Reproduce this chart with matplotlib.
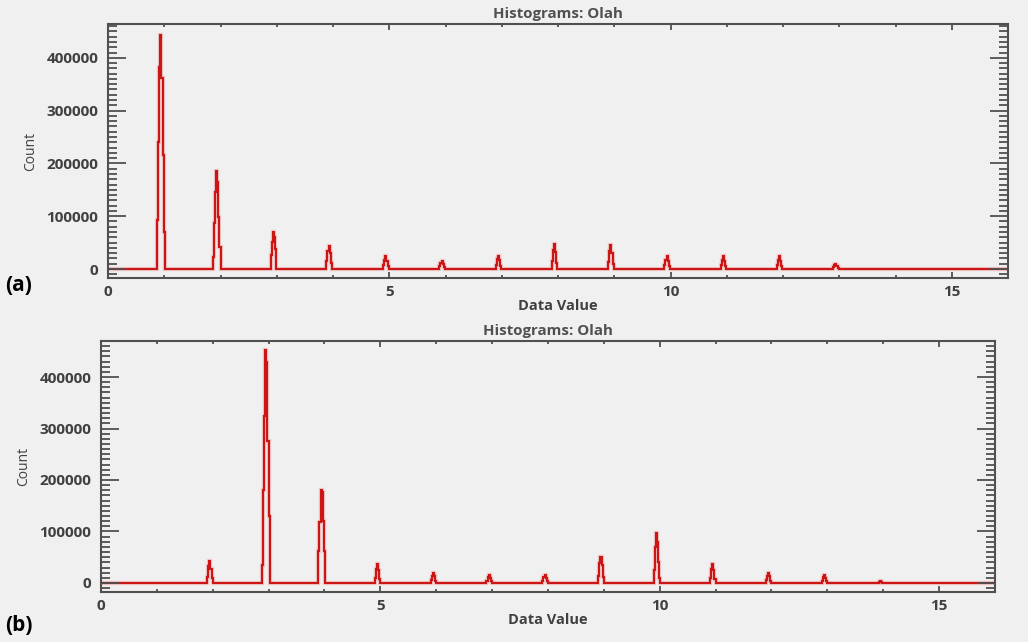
"""Two stacked IDL-style histograms (Olah), panels (a) and (b)."""

import matplotlib
matplotlib.use("Agg")
import matplotlib.pyplot as plt
import numpy as np
from matplotlib.ticker import MultipleLocator

BIN_WIDTH = 0.02
X_RANGE = (0.0, 16.0)

# panel (a): peak positions and bin counts per peak
peak_pos_a = [0.94, 1.93, 2.94, 3.93, 4.94, 5.94, 6.94, 7.94, 8.94, 9.94, 10.94, 11.94, 12.94]
peak_bins_a = [
    [93000, 240000, 383000, 444000, 362000, 216000, 71000],
    [23000, 87000, 146000, 186000, 165000, 99000, 42000],
    [26000, 52000, 71000, 60000, 38000],
    [16000, 34000, 43000, 31000, 12000],
    [8000, 18000, 24000, 16000, 6000],
    [5000, 12000, 16000, 10000, 4000],
    [8000, 19000, 25000, 17000, 6000],
    [15000, 36000, 47000, 32000, 11000],
    [14000, 34000, 45000, 31000, 10000],
    [8000, 18000, 24000, 16000, 6000],
    [8000, 18000, 24000, 15000, 6000],
    [7000, 17000, 24000, 16000, 6000],
    [3000, 7000, 9500, 6000, 2000],
]

# panel (b)
peak_pos_b = [1.95, 2.95, 3.95, 4.95, 5.95, 6.95, 7.95, 8.95, 9.95, 10.95, 11.95, 12.95, 13.95]
peak_bins_b = [
    [12000, 32000, 42000, 28000, 10000],
    [35000, 180000, 325000, 452000, 430000, 275000, 130000],
    [62000, 119000, 181000, 176000, 121000, 62000],
    [10000, 28000, 37700, 25000, 8000],
    [5000, 14000, 19500, 13000, 4000],
    [4000, 11000, 15000, 10000, 3000],
    [4000, 11000, 15000, 10000, 3000],
    [14000, 38000, 50000, 34000, 12000],
    [25000, 70000, 97000, 80000, 40000, 10000],
    [10000, 28000, 37700, 25000, 8000],
    [5000, 14000, 20000, 13000, 4000],
    [4000, 11000, 16000, 10000, 3000],
    [1000, 3000, 1000],
]

x_major_ticks = [0, 5, 10, 15]
y_major_ticks = [0, 100000, 200000, 300000, 400000]

BG = "#f0f0f0"
AXIS_GRAY = "#505050"
TEXT_GRAY = "#404040"
LINE_RED = "#cc1616"


def build_stairs(positions, bins):
    """Join the peaks into one histogram outline with empty bins between them."""
    edges = [X_RANGE[0]]
    values = []
    for center, counts in zip(positions, bins):
        start = center - len(counts) * BIN_WIDTH / 2
        values.append(0)
        edges.append(start)
        for i, count in enumerate(counts):
            values.append(count)
            edges.append(start + (i + 1) * BIN_WIDTH)
    values.append(0)
    edges.append(X_RANGE[1])
    return np.asarray(values, dtype=float), np.asarray(edges, dtype=float)


def draw_panel(ax, positions, bins, ylim):
    values, edges = build_stairs(positions, bins)
    ax.stairs(values, edges, color="#f29a9a", linewidth=3.2, alpha=0.35, baseline=None)
    ax.stairs(values, edges, color=LINE_RED, linewidth=1.6, baseline=None)
    ax.set_facecolor(BG)
    ax.set_xlim(*X_RANGE)
    ax.set_ylim(*ylim)
    ax.set_xticks(x_major_ticks)
    ax.set_yticks(y_major_ticks)
    ax.xaxis.set_minor_locator(MultipleLocator(1))
    ax.yaxis.set_minor_locator(MultipleLocator(10000))
    ax.tick_params(which="both", direction="in", top=True, right=True, colors=AXIS_GRAY,
                   width=1.3, labelcolor=TEXT_GRAY, labelsize=11)
    ax.tick_params(axis="y", which="major", length=13, pad=7)
    ax.tick_params(axis="y", which="minor", length=6.5)
    ax.tick_params(axis="x", which="major", length=4, pad=5)
    ax.tick_params(axis="x", which="minor", length=2.5)
    for label in ax.get_xticklabels() + ax.get_yticklabels():
        label.set_fontweight("bold")
    for spine in ax.spines.values():
        spine.set_color(AXIS_GRAY)
        spine.set_linewidth(1.5)
    ax.set_title("Histograms: Olah", fontsize=10.8, fontweight="bold", color="#505050", pad=4)
    ax.set_xlabel("Data Value", fontsize=10.5, fontweight="bold", color=TEXT_GRAY, labelpad=0)
    ax.set_ylabel("Count", fontsize=10, color=TEXT_GRAY, labelpad=6)


plt.rcParams["font.family"] = ["Open Sans", "DejaVu Sans"]

fig = plt.figure(figsize=(10.28, 6.42), dpi=100, facecolor=BG)
ax_a = fig.add_axes([0.1051, 0.567, 0.8755, 0.3956])
ax_b = fig.add_axes([0.0982, 0.0779, 0.8696, 0.391])

draw_panel(ax_a, peak_pos_a, peak_bins_a, (-17000, 464000))
draw_panel(ax_b, peak_pos_b, peak_bins_b, (-17500, 470000))

fig.text(0.005, 0.556, "(a)", fontsize=15, fontweight="bold", color="black", va="center")
fig.text(0.005, 0.026, "(b)", fontsize=15, fontweight="bold", color="black", va="center")

fig.savefig("out.png", dpi=100, facecolor=BG)
plt.close(fig)
